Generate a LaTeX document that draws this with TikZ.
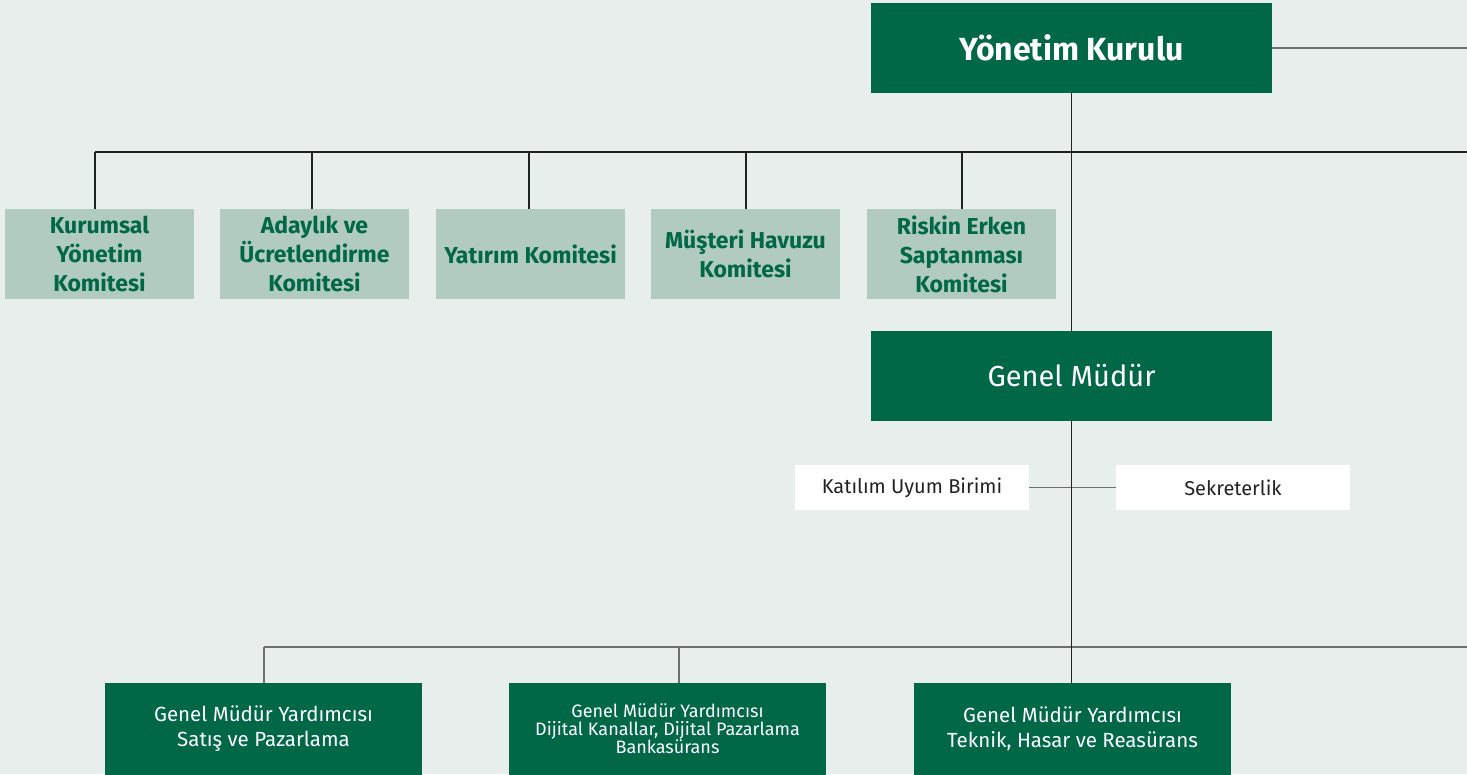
\documentclass[tikz,border=0pt]{standalone}
\usepackage{fontspec}
\setmainfont{Fira Sans}
\definecolor{bg}{HTML}{E8EEEB}
\definecolor{dgreen}{HTML}{006747}
\definecolor{lgreen}{HTML}{B2CBC0}
\definecolor{ln}{HTML}{222222}
\definecolor{lngray}{HTML}{6E6E6E}
\definecolor{dtext}{HTML}{222222}
\begin{document}
\begin{tikzpicture}[x=1pt,y=-1pt,
  topbox/.style={fill=dgreen,draw=none,text=white,minimum width=401pt,minimum height=90pt,inner sep=0pt,align=center},
  combox/.style={fill=lgreen,draw=none,text=dgreen,minimum width=189pt,minimum height=90pt,inner sep=0pt,align=center,font=\fontsize{23}{29}\selectfont\bfseries},
  whitebox/.style={fill=white,draw=none,text=dtext,minimum width=234pt,minimum height=45pt,inner sep=0pt,font=\fontsize{20}{24}\selectfont},
  gmybox/.style={fill=dgreen,draw=none,text=white,minimum width=317pt,minimum height=92pt,inner sep=0pt,align=center},
  conn/.style={draw=ln,line width=1.2pt},
  gconn/.style={draw=lngray,line width=1.4pt}]
\fill[bg] (0,0) rectangle (1467,774);
\useasboundingbox (0,0) rectangle (1467,774);

\node[topbox,font=\fontsize{32}{36}\selectfont\bfseries] (yk) at (1071.5,48) {Yönetim Kurulu};
\coordinate (ykr) at (1467,48);
\draw[gconn] (yk.east) -- (ykr);

\coordinate (h1l) at (95,152);
\coordinate (h1r) at (1467,152);
\draw[conn] (h1l) -- (h1r);

\node[combox] (c1) at (99.5,254) {Kurumsal\\Yönetim\\Komitesi};
\node[combox] (c2) at (314.5,254) {Adaylık ve\\Ücretlendirme\\Komitesi};
\node[combox] (c3) at (530.5,254) {Yatırım Komitesi};
\node[combox] (c4) at (745.5,254) {Müşteri Havuzu\\Komitesi};
\node[combox] (c5) at (961.5,254) {Riskin Erken\\Saptanması\\Komitesi};

\foreach \c/\x in {c1/95,c2/312,c3/529,c4/746,c5/962}{
  \coordinate (t\c) at (\x,152);
  \draw[conn] (t\c) -- (\c.north -| t\c);
}

\node[topbox,font=\fontsize{29}{33}\selectfont] (gm) at (1071.5,376) {Genel Müdür};
\draw[conn] (yk.south) -- (gm.north);

\node[whitebox] (ku) at (912,487.5) {Katılım Uyum Birimi};
\node[whitebox] (sk) at (1233,487.5) {Sekreterlik};
\draw[gconn] (ku.east) -- (sk.west);

\coordinate (h2l) at (264,647);
\coordinate (h2r) at (1467,647);
\draw[gconn] (h2l) -- (h2r);

\node[gmybox,font=\fontsize{20.5}{25}\selectfont] (g1) at (263.5,729) {Genel Müdür Yardımcısı\\Satış ve Pazarlama};
\node[gmybox,font=\fontsize{18}{17.5}\selectfont] (g2) at (667.5,729) {Genel Müdür Yardımcısı\\Dijital Kanallar, Dijital Pazarlama\\Bankasürans};
\node[gmybox,font=\fontsize{20.5}{25}\selectfont] (g3) at (1072.5,729) {Genel Müdür Yardımcısı\\Teknik, Hasar ve Reasürans};

\draw[conn] (gm.south) -- (g3.north -| gm.south);
\coordinate (tg1) at (264,647);
\coordinate (tg2) at (679,647);
\draw[gconn] (tg1) -- (g1.north -| tg1);
\draw[gconn] (tg2) -- (g2.north -| tg2);
\end{tikzpicture}
\end{document}
